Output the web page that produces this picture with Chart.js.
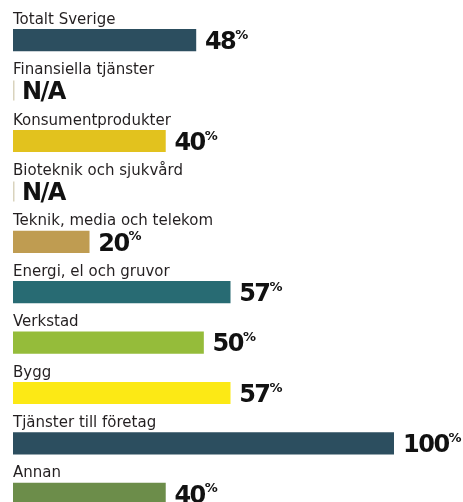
<!DOCTYPE html>
<html lang="sv">
<head>
  <meta charset="UTF-8" />
  <title>Andel per bransch</title>
  <script src="https://cdn.jsdelivr.net/npm/chart.js"></script>
  <style>
    body { margin: 0; background: #fff; overflow: hidden; }
    .wrap { position: relative; width: 463px; height: 520px; }
  </style>
</head>
<body>
  <div class="wrap"><canvas id="chart"></canvas></div>

  <script>
    const categories = [
      "Totalt Sverige", "Finansiella tjänster", "Konsumentprodukter",
      "Bioteknik och sjukvård", "Teknik, media och telekom", "Energi, el och gruvor",
      "Verkstad", "Bygg", "Tjänster till företag", "Annan"
    ];
    const values = [48, null, 40, null, 20, 57, 50, 57, 100, 40]; // null = N/A
    const barColors = [
      "#2c4e5f", "#d9d3bd", "#e2c21e", "#d9d3bd", "#bf9c51",
      "#286b73", "#95bc3a", "#fce915", "#2c4e5f", "#6c8d4a"
    ];

    const labelFont = "15px 'DejaVu Sans'";
    const valueFont = "bold 24px 'DejaVu Sans'";
    const pctFont = "bold 13px 'DejaVu Sans'";

    // category name above each bar, value (or N/A) to the right
    const rowLabels = {
      id: "rowLabels",
      afterDatasetsDraw(chart) {
        const ctx = chart.ctx;
        const xs = chart.scales.x, ys = chart.scales.y;
        const x0 = xs.getPixelForValue(0);
        ctx.save();
        ctx.textAlign = "left";
        ctx.textBaseline = "alphabetic";
        categories.forEach((name, i) => {
          const cy = ys.getPixelForValue(i);
          ctx.fillStyle = "#231f20";
          ctx.font = labelFont;
          ctx.letterSpacing = "0px";
          ctx.fillText(name, x0, cy - 16.5);

          const v = values[i];
          ctx.fillStyle = "#111";
          ctx.font = valueFont;
          ctx.letterSpacing = "-1.5px";
          if (v === null) {
            ctx.strokeStyle = barColors[i];
            ctx.lineWidth = 1.5;
            ctx.beginPath();
            ctx.moveTo(x0 + 0.75, cy - 10);
            ctx.lineTo(x0 + 0.75, cy + 10);
            ctx.stroke();
            ctx.fillText("N/A", x0 + 9, cy + 8.8);
          } else {
            const tx = xs.getPixelForValue(v) + 9;
            ctx.fillText(String(v), tx, cy + 8.8);
            const w = ctx.measureText(String(v)).width;
            ctx.font = pctFont;
            ctx.letterSpacing = "0px";
            ctx.fillText("%", tx + w, cy - 1.5);
          }
        });
        ctx.restore();
      }
    };

    new Chart(document.getElementById("chart"), {
      type: "bar",
      data: {
        labels: categories,
        datasets: [{
          data: values,
          backgroundColor: barColors,
          borderWidth: 0,
          barThickness: 21.5
        }]
      },
      options: {
        indexAxis: "y",
        responsive: true,
        maintainAspectRatio: false,
        animation: false,
        devicePixelRatio: 1,
        layout: { padding: { left: 13, right: 69, top: 15, bottom: 1 } },
        scales: {
          x: { display: false, min: 0, max: 100 },
          y: { display: false }
        },
        plugins: {
          legend: { display: false },
          tooltip: { enabled: false }
        }
      },
      plugins: [rowLabels]
    });
  </script>
</body>
</html>
